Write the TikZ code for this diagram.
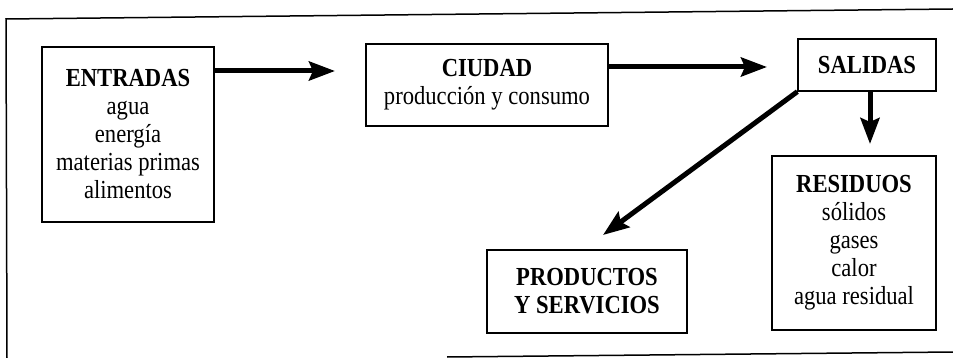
\documentclass[tikz,border=0pt]{standalone}
\usepackage{fontspec}
\setmainfont[FakeStretch=0.87]{Liberation Serif}
\usetikzlibrary{arrows.meta}
\begin{document}
\begin{tikzpicture}[x=1pt,y=-1pt,
  box/.style={draw,line width=1.3pt,align=center,inner sep=0pt,
    font=\fontsize{26}{28}\selectfont},
  flow/.style={line width=5pt,-{Stealth[length=26pt,width=19pt,inset=4pt]}},
  frame/.style={line width=1.5pt}]
\useasboundingbox (0,0) rectangle (953,358);
% frame
\coordinate (ftl) at (6,19);
\coordinate (ftr) at (953,9);
\coordinate (fbl) at (7,358);
\coordinate (fb1) at (447,357);
\coordinate (fb2) at (953,352);
\draw[frame] (fbl) -- (ftl) -- (ftr);
\draw[frame] (fb1) -- (fb2);
% boxes
\node[box,minimum width=172pt,minimum height=175pt] (ent) at (128,134.5)
  {\textbf{ENTRADAS}\\agua\\energía\\materias primas\\alimentos};
\node[box,minimum width=242pt,minimum height=82pt] (ciu) at (487,85)
  {\textbf{CIUDAD}\\producción y consumo};
\node[box,minimum width=138pt,minimum height=52pt] (sal) at (867,65)
  {\textbf{SALIDAS}};
\node[box,minimum width=164pt,minimum height=174pt] (res) at (854,243)
  {\textbf{RESIDUOS}\\sólidos\\gases\\calor\\agua residual};
\node[box,minimum width=200pt,minimum height=83pt] (pro) at (587,291.5)
  {\textbf{PRODUCTOS}\\\textbf{Y SERVICIOS}};
% arrow ends
\coordinate (t1) at (335,71);
\coordinate (t2) at (767,67);
\coordinate (t3) at (870,144);
\coordinate (t4) at (603,235);
\draw[flow] (ent.east |- t1) -- (t1);
\draw[flow] (ciu.east |- t2) -- (t2);
\draw[flow] (sal.south -| t3) -- (t3);
\draw[flow] (sal.south west) -- (t4);
\end{tikzpicture}
\end{document}
